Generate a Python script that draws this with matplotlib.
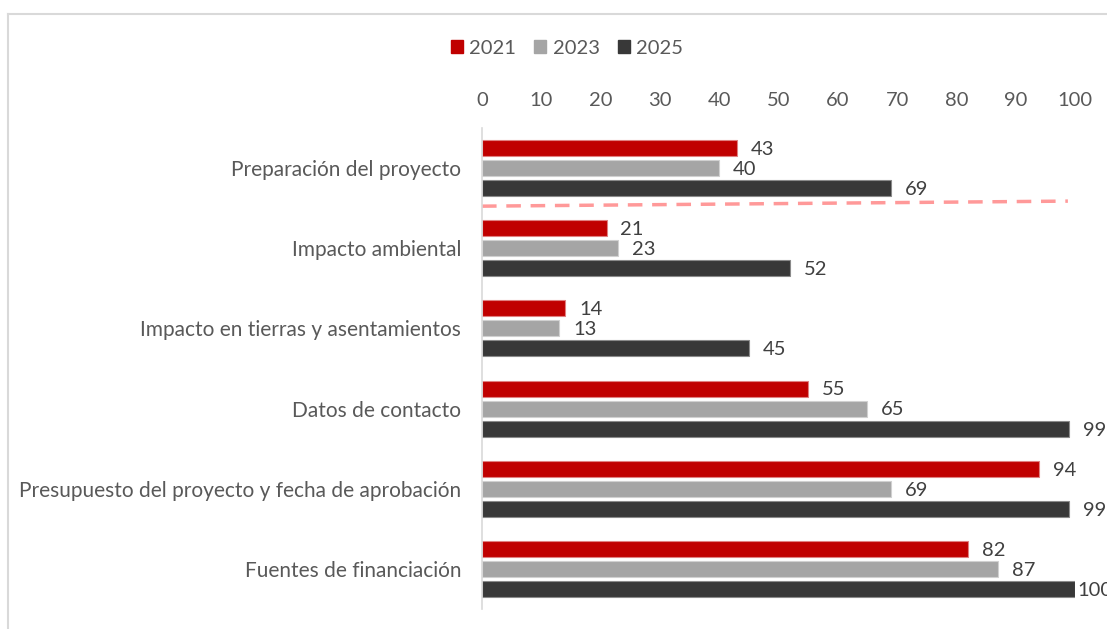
import numpy as np
import matplotlib.pyplot as plt
from matplotlib.lines import Line2D

plt.rcParams['font.family'] = ['Lato', 'DejaVu Sans']

categories = ['Preparación del proyecto', 'Impacto ambiental',
              'Impacto en tierras y asentamientos', 'Datos de contacto',
              'Presupuesto del proyecto y fecha de aprobación',
              'Fuentes de financiación']
years = ['2021', '2023', '2025']
v2021 = [43, 21, 14, 55, 94, 82]
v2023 = [40, 23, 13, 65, 69, 87]
v2025 = [69, 52, 45, 99, 99, 100]
colors = ['#c00000', '#a5a5a5', '#383838']
edges = ['#e08080', '#d0d0d0', '#8a8a8a']

# dashed separator drawn on the original (x from, x to, y from, y to)
sep_x = [0, 98.8]
sep_y = [0.475, 0.412]

fig = plt.figure(figsize=(11.07, 6.29), dpi=100)
ax = fig.add_axes([482 / 1107, 1 - 609 / 629, (1075 - 482) / 1107, (609 - 128) / 629])

y = np.arange(len(categories))
h = 0.2
step = 0.25
for i, (vals, c, ec, lab) in enumerate(zip([v2021, v2023, v2025], colors, edges, years)):
    pos = y + (i - 1) * step
    bars = ax.barh(pos, vals, height=h, color=c, edgecolor=ec, linewidth=0.8, label=lab)
    for b, v in zip(bars, vals):
        # labels at the axis end get squeezed in like the original
        off = 2 if v >= 100 else 10
        ax.annotate(str(v), (b.get_width(), b.get_y() + b.get_height() / 2),
                    xytext=(off, -1), textcoords='offset points', va='center', ha='left',
                    fontsize=14.5, color='#404040', annotation_clip=False)

ax.plot(sep_x, sep_y, color='#ff9999', lw=2.5, ls=(0, (4.2, 2.8)), clip_on=False)

ax.set_xlim(0, 100)
ax.set_ylim(5.5, -0.5)
ax.set_xticks(np.arange(0, 101, 10))
ax.xaxis.tick_top()
ax.tick_params(axis='x', length=0, pad=14, labelsize=14.5, labelcolor='#595959')
ax.set_yticks(y)
ax.set_yticklabels(categories)
ax.tick_params(axis='y', length=0, pad=15, labelsize=15, labelcolor='#595959')
for s in ['top', 'right', 'bottom']:
    ax.spines[s].set_visible(False)
ax.spines['left'].set_color('#d9d9d9')
ax.spines['left'].set_linewidth(1.2)

handles = [plt.Rectangle((0, 0), 1, 1, color=c) for c in colors]
fig.legend(handles, years, loc='center', bbox_to_anchor=(567 / 1107, 1 - 48 / 629),
           ncol=3, frameon=False, fontsize=14.5, handlelength=0.6, handleheight=0.6,
           handletextpad=0.3, columnspacing=0.9, labelcolor='#595959')

# outer frame
fig.add_artist(Line2D([8 / 1107, 8 / 1107], [0, 1 - 14 / 629], color='#d9d9d9', lw=1.5))
fig.add_artist(Line2D([8 / 1107, 1], [1 - 14 / 629, 1 - 14 / 629], color='#d9d9d9', lw=1.5))

fig.savefig('out.png', dpi=100)
